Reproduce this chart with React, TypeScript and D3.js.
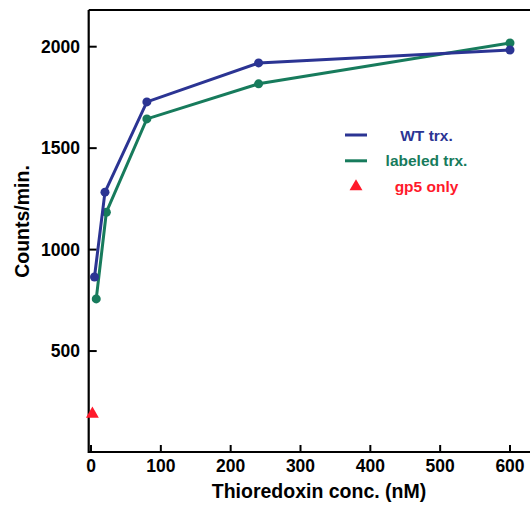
import React from "react";
import * as d3 from "d3";

const wtX = [5, 20, 80, 240, 600];
const wtY = [865, 1283, 1728, 1920, 1984];
const labX = [7.5, 22, 80, 240, 600];
const labY = [757, 1184, 1644, 1817, 2018];
const gp5X = [2];
const gp5Y = [190];
const xTicks = [0, 100, 200, 300, 400, 500, 600];
const yTicks = [500, 1000, 1500, 2000];
const legendLabels = ["WT trx.", "labeled trx.", "gp5 only"];

const BLUE = "#2b3493";
const GREEN = "#177b5c";
const RED = "#ff1a2b";

export default function App() {
  const x = d3.scaleLinear().domain([0, 600]).range([91, 510]);
  const y = d3.scaleLinear().domain([0, 2000]).range([452.5, 46.7]);
  const left = x(-3.3);
  const bottom = 452;
  const top = 10;
  const right = 545;
  const line = d3.line<[number, number]>().x((d) => x(d[0])).y((d) => y(d[1]));
  const wt: [number, number][] = wtX.map((v, i) => [v, wtY[i]]);
  const lab: [number, number][] = labX.map((v, i) => [v, labY[i]]);
  const font = "'Liberation Sans', Arial, Helvetica, sans-serif";
  const tri = d3.symbol().type(d3.symbolTriangle).size(72)();
  const legendColors = [BLUE, GREEN, RED];
  return (
    <svg width={530} height={508} style={{ position: "absolute", left: 0, top: 0, background: "#fff" }} fontFamily={font}>
      <rect x={0} y={0} width={530} height={508} fill="#fff" />
      {/* frame */}
      <path d={`M${left},${top}H${right}M${left},${top}V${bottom}H${right}`} stroke="#000" strokeWidth={2.2} fill="none" />
      {yTicks.map((t) => (
        <g key={t}>
          <line x1={left} x2={left + 8} y1={y(t)} y2={y(t)} stroke="#000" strokeWidth={2} />
          <text x={80} y={y(t)} dy="0.36em" textAnchor="end" fontSize={17.5} fontWeight="bold">
            {t}
          </text>
        </g>
      ))}
      {xTicks.map((t) => (
        <g key={t}>
          <line x1={x(t)} x2={x(t)} y1={bottom} y2={bottom - 7} stroke="#000" strokeWidth={2} />
          <text x={x(t)} y={472} textAnchor="middle" fontSize={17.5} fontWeight="bold">
            {t}
          </text>
        </g>
      ))}
      <text x={319} y={498} textAnchor="middle" fontSize={19.5} fontWeight="bold">
        Thioredoxin conc. (nM)
      </text>
      <text transform={`translate(29,221.5) rotate(-90)`} textAnchor="middle" fontSize={19.5} fontWeight="bold">
        Counts/min.
      </text>
      {/* series */}
      <path d={line(lab) || ""} stroke={GREEN} strokeWidth={3} fill="none" />
      {lab.map((d, i) => (
        <circle key={"l" + i} cx={x(d[0])} cy={y(d[1])} r={4.5} fill={GREEN} />
      ))}
      <path d={line(wt) || ""} stroke={BLUE} strokeWidth={3} fill="none" />
      {wt.map((d, i) => (
        <circle key={"w" + i} cx={x(d[0])} cy={y(d[1])} r={4.5} fill={BLUE} />
      ))}
      {gp5X.map((v, i) => (
        <path key={"g" + i} d={tri || ""} transform={`translate(${x(v)},${y(gp5Y[i])})`} fill={RED} />
      ))}
      {/* legend */}
      {legendLabels.map((lbl, i) => {
        const ly = 135 + i * 25.8;
        return (
          <g key={lbl}>
            {i < 2 ? (
              <line x1={345} x2={367} y1={ly} y2={ly} stroke={legendColors[i]} strokeWidth={3} />
            ) : (
              <path d={tri || ""} transform={`translate(356,${ly})`} fill={RED} />
            )}
            <text x={426.5} y={ly} dy="0.36em" textAnchor="middle" fontSize={15.5} fontWeight="bold" fill={legendColors[i]}>
              {lbl}
            </text>
          </g>
        );
      })}
    </svg>
  );
}
